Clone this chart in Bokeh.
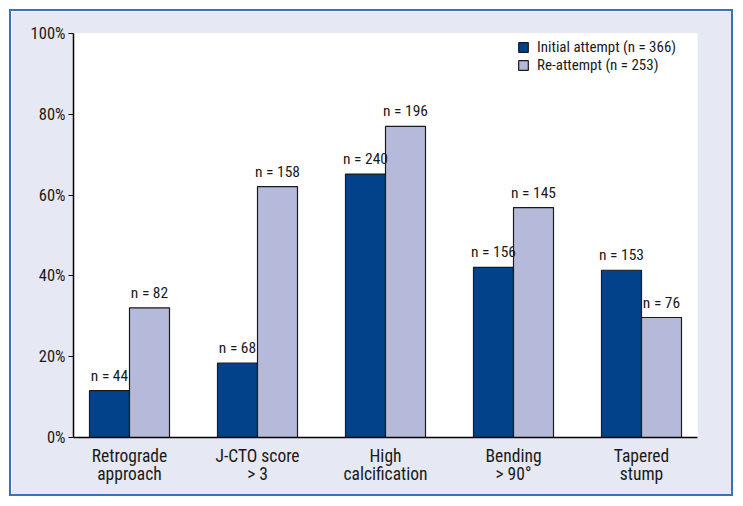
from bokeh.plotting import figure
from bokeh.models import ColumnDataSource, FixedTicker, Range1d, Legend, LegendItem
from bokeh.core.properties import value
from bokeh.embed import file_html
from bokeh.resources import INLINE

categories = ["Retrograde\napproach", "J-CTO score\n> 3", "High\ncalcification", "Bending\n> 90°", "Tapered\nstump"]
initial_pct = [11.6, 18.4, 65.2, 42.1, 41.4]
reattempt_pct = [32.1, 62.1, 77.0, 56.9, 29.7]
initial_n = [44, 68, 240, 156, 153]
reattempt_n = [82, 158, 196, 145, 76]
series_names = ["Initial attempt (n = 366)", "Re-attempt (n = 253)"]
y_ticks = [0, 20, 40, 60, 80, 100]

FONT = "Roboto Condensed, Roboto"
DARK = "#02428A"
LIGHT = "#B5BADB"
BG = "#E6E8F3"

xs = list(range(len(categories)))
bw = 0.3125
src_i = ColumnDataSource(dict(x=[v - bw / 2 for v in xs], top=initial_pct,
                              lab=[f"n = {n}" for n in initial_n]))
src_r = ColumnDataSource(dict(x=[v + bw / 2 for v in xs], top=reattempt_pct,
                              lab=[f"n = {n}" for n in reattempt_n]))

p = figure(output_backend="svg", toolbar_location=None,
           frame_width=624, frame_height=404,
           x_range=Range1d(-0.4375, len(categories) - 1 + 0.4375),
           y_range=Range1d(0, 100),
           min_border_left=62, min_border_right=34, min_border_top=22, min_border_bottom=57,
           border_fill_color=BG, background_fill_color="white",
           styles={"border": "2px solid #3A72B8", "margin-left": "9px", "margin-top": "9px"})
p.outline_line_color = None
p.grid.visible = False

ri = p.vbar(x="x", top="top", width=bw, source=src_i, fill_color=DARK, line_color="#1a1a1a", line_width=1.2)
rr = p.vbar(x="x", top="top", width=bw, source=src_r, fill_color=LIGHT, line_color="#1a1a1a", line_width=1.2)

for src in (src_i, src_r):
    p.text(x="x", y="top", text="lab", source=src, text_align="center", text_baseline="bottom",
           y_offset=-6, text_font=value(FONT), text_font_size="15.5px", text_color="#1a1a1a")

p.yaxis.ticker = FixedTicker(ticks=y_ticks)
p.yaxis.major_label_overrides = {t: f"{t}%" for t in y_ticks}
p.yaxis.minor_tick_line_color = None
p.yaxis.major_tick_out = 5
p.yaxis.major_tick_in = 0
p.yaxis.axis_line_width = 1.5
p.yaxis.major_tick_line_width = 1.2
p.yaxis.major_label_text_font = FONT
p.yaxis.major_label_text_font_size = "16.5px"
p.yaxis.major_label_text_color = "#1a1a1a"
p.yaxis.major_label_standoff = 3

p.xaxis.ticker = FixedTicker(ticks=xs)
p.xaxis.major_label_overrides = {i: c for i, c in enumerate(categories)}
p.xaxis.major_tick_line_color = None
p.xaxis.minor_tick_line_color = None
p.xaxis.axis_line_width = 1.5
p.xaxis.major_label_text_font = FONT
p.xaxis.major_label_text_font_size = "17.5px"
p.xaxis.major_label_text_color = "#1a1a1a"
p.xaxis.major_label_standoff = 2
p.xaxis.major_label_text_line_height = 0.92

legend_kw = dict(glyph_width=12, glyph_height=12,
                 label_text_font=FONT, label_text_font_size="15px", label_text_color="#1a1a1a",
                 label_height=14, spacing=0, padding=0, margin=0, label_standoff=8,
                 background_fill_alpha=0, border_line_color=None)
for name, rend, loc in ((series_names[0], ri, (444, 381)), (series_names[1], rr, (444, 363))):
    p.add_layout(Legend(items=[LegendItem(label=name, renderers=[rend])], location=loc, **legend_kw))

open("out.html", "w").write(file_html(p, INLINE))
